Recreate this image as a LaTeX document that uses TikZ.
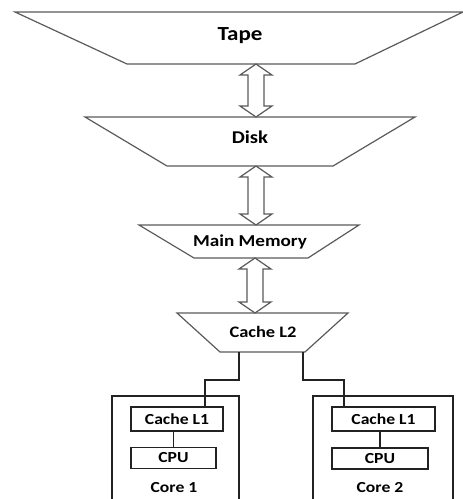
\documentclass[tikz,border=0pt]{standalone}
\usepackage{fontspec}
\setmainfont{Carlito}[FakeStretch=1.15]
\usetikzlibrary{positioning,calc}
\definecolor{edge}{HTML}{5A5A5A}
\definecolor{wire}{HTML}{222222}
\tikzset{
  levelline/.style={draw=edge, line width=0.9pt, line join=miter},
  leveltext/.style={anchor=base, inner sep=0pt,
    font=\bfseries\fontsize{#1}{#1}\selectfont},
  leveltext/.default=12,
  transfer/.style={draw=edge, line width=0.9pt, fill=white, line join=miter},
  cachebox/.style={rectangle, draw=wire, line width=0.9pt, inner sep=0pt,
    minimum height=#1, font=\bfseries\fontsize{11.5}{13}\selectfont},
  cachebox/.default=18pt,
  corebox/.style={rectangle, draw=wire, line width=0.9pt, inner sep=0pt,
    minimum height=93pt},
  corelabel/.style={anchor=base, inner sep=0pt,
    font=\bfseries\fontsize{11.5}{13}\selectfont},
  link/.style={draw=wire, line width=0.9pt},
}
\begin{document}
\begin{tikzpicture}[x=0.75pt, y=-0.75pt]
  \path[use as bounding box, clip] (0,0) rectangle (463,499);
  % memory levels
  \draw[levelline] (15,12) -- (463,12) -- (355,64) -- (127,64) -- cycle;
  \node[leveltext=15] (tape) at (240,40.5) {Tape};
  \draw[levelline] (85,117) -- (415,117) -- (333,166) -- (167,166) -- cycle;
  \node[leveltext=13.5] (disk) at (250,143) {Disk};
  \draw[levelline] (139,225) -- (359,225) -- (308,258) -- (194,258) -- cycle;
  \node[leveltext=12.5] (mem) at (250,246.5) {Main Memory};
  \draw[levelline] (177,313) -- (348,313) -- (305,352) -- (220,352) -- cycle;
  \node[leveltext=12] (l2) at (263,337) {Cache L2};
  % transfers between levels
  \foreach \ax/\ya/\yb in {256/64/117, 256/166/225, 255/258/313}
    \draw[transfer] (\ax,\ya) -- ++(16,11) -- ++(-8,0) -- (\ax+8,\yb-11) -- ++(8,0)
      -- (\ax,\yb) -- ++(-16,-11) -- ++(8,0) -- (\ax-8,\ya+11) -- ++(-8,0) -- cycle;
  % cores
  \node[corebox, minimum width=95.25pt] (core1) at (175.5,458) {};
  \node[corebox, minimum width=105pt] (core2) at (383,458) {};
  \node[cachebox, minimum width=69pt] (l1a) at (177,419) {Cache L1};
  \node[cachebox=15.75pt, minimum width=63.75pt] (cpu1) at (173.5,458) {CPU};
  \node[cachebox, minimum width=77.25pt] (l1b) at (383.5,419) {Cache L1};
  \node[cachebox=15.75pt, minimum width=72pt] (cpu2) at (380,458.5) {CPU};
  \node[corelabel] (lab1) at (174,492) {Core 1};
  \node[corelabel] (lab2) at (380,492) {Core 2};
  % wiring
  \draw[link] (239,352) -- ++(0,28) -| ($(l1a.north)+(28,0)$);
  \draw[link] (303,352) -- ++(0,28) -| ($(l1b.north)+(-39.5,0)$);
  \draw[link] (cpu1.north) -- (cpu1.north |- l1a.south);
  \draw[link] (cpu2.north) -- (cpu2.north |- l1b.south);
\end{tikzpicture}
\end{document}
